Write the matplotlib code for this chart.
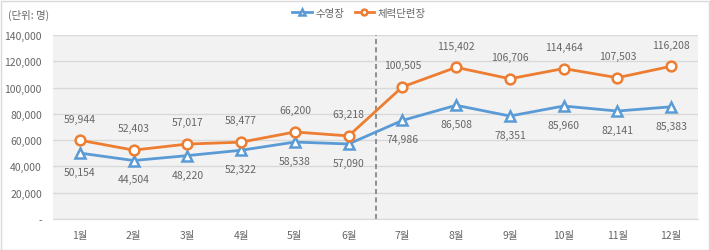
import matplotlib.pyplot as plt
from matplotlib.patches import Rectangle

plt.rcParams['font.family'] = ['Noto Sans CJK KR', 'DejaVu Sans']

months = ['1월', '2월', '3월', '4월', '5월', '6월', '7월', '8월', '9월', '10월', '11월', '12월']
swim = [50154, 44504, 48220, 52322, 58538, 57090, 74986, 86508, 78351, 85960, 82141, 85383]
gym = [59944, 52403, 57017, 58477, 66200, 63218, 100505, 115402, 106706, 114464, 107503, 116208]
yticks = [0, 20000, 40000, 60000, 80000, 100000, 120000, 140000]

blue = '#5B9BD5'
orange = '#ED7D31'
txt = '#666666'

fig = plt.figure(figsize=(7.1, 2.51), dpi=100)
ax = fig.add_axes([53/710, 1-220/251, 645/710, 184/251])
ax.set_facecolor('#f2f2f2')

x = list(range(len(months)))
ax.plot(x, swim, color=blue, lw=2, marker='^', ms=7, mfc='white', mec=blue, mew=1.8, label='수영장', zorder=3)
ax.plot(x, gym, color=orange, lw=2, marker='o', ms=7, mfc='white', mec=orange, mew=1.8, label='체력단련장', zorder=3)

for i in x:
    ax.annotate(f'{gym[i]:,}', (i, gym[i]), xytext=(0, 12), textcoords='offset points',
                ha='center', va='bottom', fontsize=7.5, color=txt)
    ax.annotate(f'{swim[i]:,}', (i, swim[i]), xytext=(0, -10), textcoords='offset points',
                ha='center', va='top', fontsize=7.5, color=txt)

ax.axvline(5.5, color='#7f7f7f', lw=1.2, ls=(0, (3, 2)), zorder=2)

ax.set_xlim(-0.5, 11.5)
ax.set_ylim(0, 140000)
ax.set_yticks(yticks)
ax.set_yticklabels(['-' if v == 0 else f'{v:,}' for v in yticks])
ax.set_xticks(x)
ax.set_xticklabels(months)
ax.tick_params(length=0, labelsize=7.5, labelcolor=txt)
ax.tick_params(axis='y', pad=8)
ax.tick_params(axis='x', pad=8)
ax.grid(axis='y', color='#d9d9d9', lw=1)
ax.set_axisbelow(True)
for s in ['top', 'right', 'left']:
    ax.spines[s].set_visible(False)
ax.spines['bottom'].set_color('#d9d9d9')

fig.text(8/710, 1-15/251, '(단위: 명)', fontsize=7.5, color=txt, va='center', ha='left')

fig.legend(loc='center', bbox_to_anchor=(359/710, 1-14/251), ncol=2, frameon=False,
           fontsize=7.5, labelcolor=txt, handlelength=1.9, columnspacing=1.0, handletextpad=0.3,
           markerscale=0.6)

fig.patches.append(Rectangle((0.5/710, 0.5/251), 708/710, 249/251, transform=fig.transFigure,
                             fill=False, ec='#d9d9d9', lw=1))

fig.savefig('out.png', dpi=100)
